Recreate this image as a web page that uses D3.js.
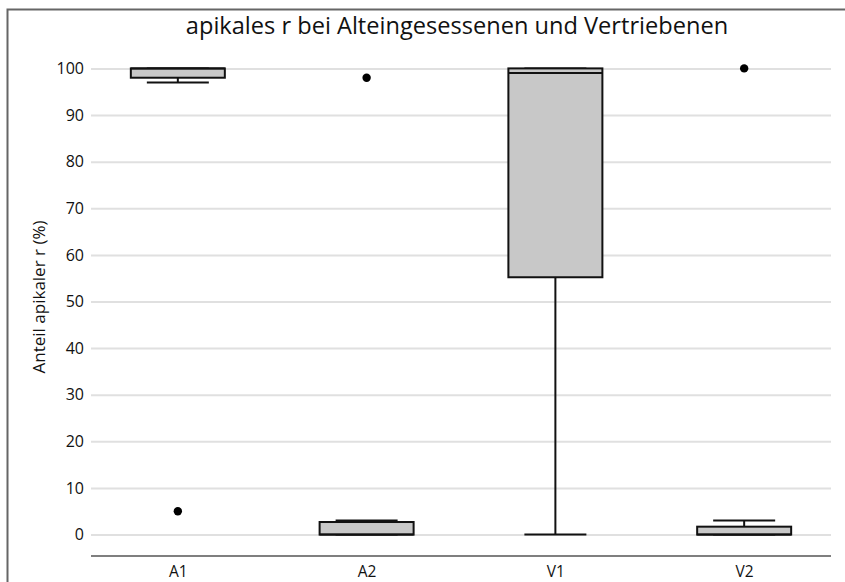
<!DOCTYPE html>
<html>
<head>
<meta charset="utf-8">
<script src="https://cdn.jsdelivr.net/npm/d3@7"></script>
<style>
  body { margin: 0; background: #fff; }
  text { font-family: "Open Sans", sans-serif; fill: #111; }
</style>
</head>
<body>
<script>
const groups = ['A1', 'A2', 'V1', 'V2'];
// box stats: [whisker low, q1, median, q3, whisker high]
const lowWhisker = [97, 0, 0, 0];
const q1 = [98, 0, 55.2, 0];
const median = [100, 0, 99, 0];
const q3 = [100, 2.7, 100, 1.7];
const highWhisker = [100, 3, 100, 3];
const outliers = [
  { group: 'A1', value: 5 },
  { group: 'A2', value: 98 },
  { group: 'V2', value: 100 }
];
const yTicks = [0, 10, 20, 30, 40, 50, 60, 70, 80, 90, 100];

const width = 845;
const height = 582;
const svg = d3.select('body').append('svg').attr('width', width).attr('height', height);

// outer frame (left and top edges visible)
svg.append('path').attr('d', 'M7.5,582 V9.5 H845').attr('fill', 'none').attr('stroke', '#666').attr('stroke-width', 2);

const x = d3.scalePoint().domain(groups).range([91, 831]).padding(0.46);
const y = d3.scaleLinear().domain([0, 100]).range([534.6, 68.4]);
const boxW = 94;
const capW = 62;

// gridlines + y labels
const yAxis = svg.append('g').attr('transform', 'translate(91,0)')
  .call(d3.axisLeft(y).tickValues(yTicks).tickSize(-740).tickPadding(7));
yAxis.select('.domain').remove();
yAxis.selectAll('.tick line').attr('stroke', '#e0e0e0').attr('stroke-width', 2);
yAxis.selectAll('.tick text').attr('font-size', 16).attr('font-family', '"Open Sans", sans-serif').attr('fill', '#111');

// x axis
const xAxis = svg.append('g').attr('transform', 'translate(0,556)')
  .call(d3.axisBottom(x).tickSize(0).tickPadding(10));
xAxis.select('.domain').attr('d', 'M91,0H831').attr('stroke', '#555').attr('stroke-width', 1.5);
xAxis.selectAll('.tick text').attr('font-size', 15.5).attr('font-family', '"Open Sans", sans-serif').attr('fill', '#111');

const boxes = svg.append('g').selectAll('g').data(groups).enter().append('g')
  .attr('transform', d => `translate(${x(d)},0)`);

// whiskers
boxes.append('line').attr('x1', 0).attr('x2', 0)
  .attr('y1', (d, i) => y(highWhisker[i])).attr('y2', (d, i) => y(lowWhisker[i]))
  .attr('stroke', '#111').attr('stroke-width', 2);
boxes.append('line').attr('x1', -capW / 2).attr('x2', capW / 2)
  .attr('y1', (d, i) => y(lowWhisker[i])).attr('y2', (d, i) => y(lowWhisker[i]))
  .attr('stroke', '#111').attr('stroke-width', 2);
boxes.append('line').attr('x1', -capW / 2).attr('x2', capW / 2)
  .attr('y1', (d, i) => y(highWhisker[i])).attr('y2', (d, i) => y(highWhisker[i]))
  .attr('stroke', '#111').attr('stroke-width', 2);

// boxes
boxes.append('rect').attr('x', -boxW / 2).attr('width', boxW)
  .attr('y', (d, i) => y(q3[i])).attr('height', (d, i) => y(q1[i]) - y(q3[i]))
  .attr('fill', '#c8c8c8').attr('stroke', '#111').attr('stroke-width', 2);
boxes.append('line').attr('x1', -boxW / 2).attr('x2', boxW / 2)
  .attr('y1', (d, i) => y(median[i])).attr('y2', (d, i) => y(median[i]))
  .attr('stroke', '#111').attr('stroke-width', 2);

// outliers
svg.append('g').selectAll('circle').data(outliers).enter().append('circle')
  .attr('cx', d => x(d.group)).attr('cy', d => y(d.value)).attr('r', 4.2).attr('fill', '#000');

// title and y label
svg.append('text').attr('x', 457).attr('y', 34).attr('text-anchor', 'middle')
  .attr('font-size', 23.6).text('apikales r bei Alteingesessenen und Vertriebenen');
svg.append('text').attr('transform', 'translate(45,297) rotate(-90)').attr('text-anchor', 'middle')
  .attr('font-size', 17).text('Anteil apikaler r (%)');
</script>
</body>
</html>
